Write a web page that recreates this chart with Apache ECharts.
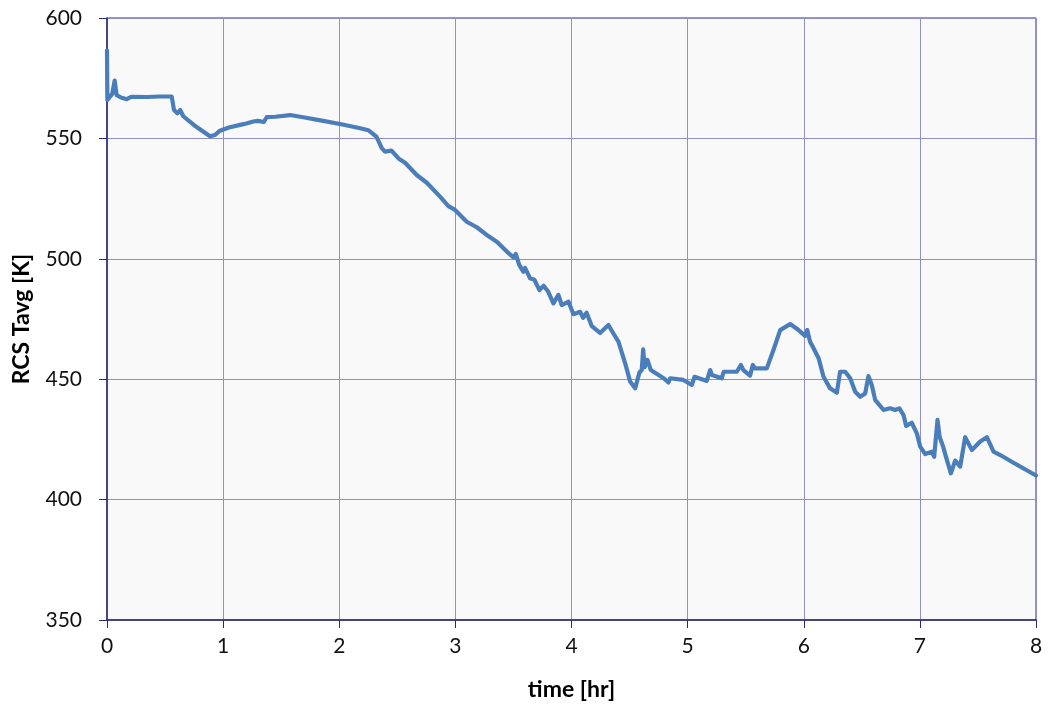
<!DOCTYPE html>
<html><head><meta charset="utf-8">
<script src="https://cdn.jsdelivr.net/npm/echarts@6/dist/echarts.min.js"></script>
<style>html,body{margin:0;padding:0;background:#fff}#c{width:1049px;height:710px}</style>
</head><body><div id="c"></div>
<script>
const timeHr = [0,0.003,0.02,0.045,0.066,0.083,0.12,0.17,0.21,0.35,0.45,0.557,0.577,0.606,0.63,0.657,0.75,0.887,0.93,0.973,1.05,1.146,1.2,1.26,1.3,1.35,1.375,1.45,1.576,1.69,1.85,2.007,2.18,2.25,2.32,2.366,2.394,2.45,2.51,2.567,2.667,2.754,2.868,2.94,2.997,3.098,3.184,3.27,3.357,3.443,3.5,3.52,3.55,3.586,3.6,3.643,3.68,3.724,3.76,3.8,3.844,3.887,3.916,3.974,4.017,4.074,4.1,4.13,4.175,4.19,4.246,4.318,4.361,4.404,4.462,4.505,4.548,4.585,4.605,4.617,4.63,4.654,4.683,4.763,4.8,4.835,4.85,4.964,5.036,5.06,5.165,5.194,5.21,5.294,5.31,5.424,5.458,5.48,5.538,5.561,5.58,5.682,5.739,5.797,5.883,5.955,6.012,6.03,6.055,6.07,6.128,6.17,6.227,6.285,6.313,6.357,6.4,6.443,6.486,6.529,6.557,6.586,6.615,6.687,6.744,6.787,6.824,6.859,6.882,6.93,6.974,7.003,7.046,7.103,7.123,7.152,7.17,7.2,7.233,7.267,7.304,7.347,7.39,7.448,7.52,7.577,7.634,7.692,7.806,8.0];
const tavgK = [586.5,566,567,568.5,574,568,567,566.3,567.3,567.2,567.4,567.4,561.8,560.4,561.8,559.2,555.5,550.9,551.4,553.2,554.5,555.6,556.2,557,557.3,556.8,558.8,559,559.7,558.8,557.4,556,554.2,553.4,550.7,546,544.5,544.9,541.7,539.9,534.8,531.6,525.8,521.9,520.3,515.4,513.1,509.9,507.1,503,500.6,502,497.5,494.6,496.2,491.9,491.3,487,488.8,486.3,481.5,485,480.8,482.2,477,478,475.5,477.6,472,471.5,469.2,472.5,469,465.6,456.6,449,446.2,452.8,453.8,462.4,455,458,453.8,451.3,450.2,448.6,450.4,449.7,447.6,451,449.3,453.8,451.7,450.4,453.1,453.1,455.9,453.8,451.5,455.9,454.5,454.5,462.1,470.4,472.9,470.4,468,470.4,465.5,464.2,458.7,451,446.2,444.4,453.1,453.1,450.4,444.8,442.7,444.1,451.3,447.6,441.4,437.2,437.9,437.2,437.9,435.1,430.6,431.9,427.5,422,418.9,419.9,417.8,433.1,426.1,422,416.4,410.9,416.2,413.7,425.9,420.6,424.1,425.9,419.9,418.5,415.3,410];
const xName = 'time [hr]';
const yName = 'RCS Tavg [K]';

const chart = echarts.init(document.getElementById('c'), null, {renderer:'canvas'});
const font = 'Lato, "Open Sans", sans-serif';
chart.setOption({
  animation:false,
  grid:{left:107,right:13,top:18,bottom:90,show:true,backgroundColor:'#f9f9f9',borderColor:'#2a2a7a',borderWidth:1},
  xAxis:{type:'value',min:0,max:8,interval:1,name:xName,nameLocation:'middle',nameGap:58,
    nameTextStyle:{fontFamily:font,fontSize:23,fontWeight:'bold',color:'#000'},
    axisLine:{show:true,lineStyle:{color:'#2a2a7a',width:1.5}},
    axisTick:{show:true,inside:false,length:8,lineStyle:{color:'#2a2a7a'}},
    axisLabel:{fontFamily:font,fontSize:21,color:'#111',margin:16},
    splitLine:{show:true,lineStyle:{color:'#8f8fcc',width:1}}},
  yAxis:{type:'value',min:350,max:600,interval:50,name:yName,nameLocation:'middle',nameGap:74,nameRotate:90,
    nameTextStyle:{fontFamily:font,fontSize:23,fontWeight:'bold',color:'#000'},
    axisLine:{show:true,lineStyle:{color:'#2a2a7a',width:1.5}},
    axisTick:{show:true,inside:false,length:8,lineStyle:{color:'#2a2a7a'}},
    axisLabel:{fontFamily:font,fontSize:21,color:'#111',margin:25},
    splitLine:{show:true,lineStyle:{color:'#8f8fcc',width:1}}},
  series:[{type:'line',data:timeHr.map((t,i)=>[t,tavgK[i]]),showSymbol:false,symbol:'none',
    lineStyle:{color:'#4a7ebb',width:4.2,join:'round',cap:'round'},smooth:false}]
});
</script></body></html>
